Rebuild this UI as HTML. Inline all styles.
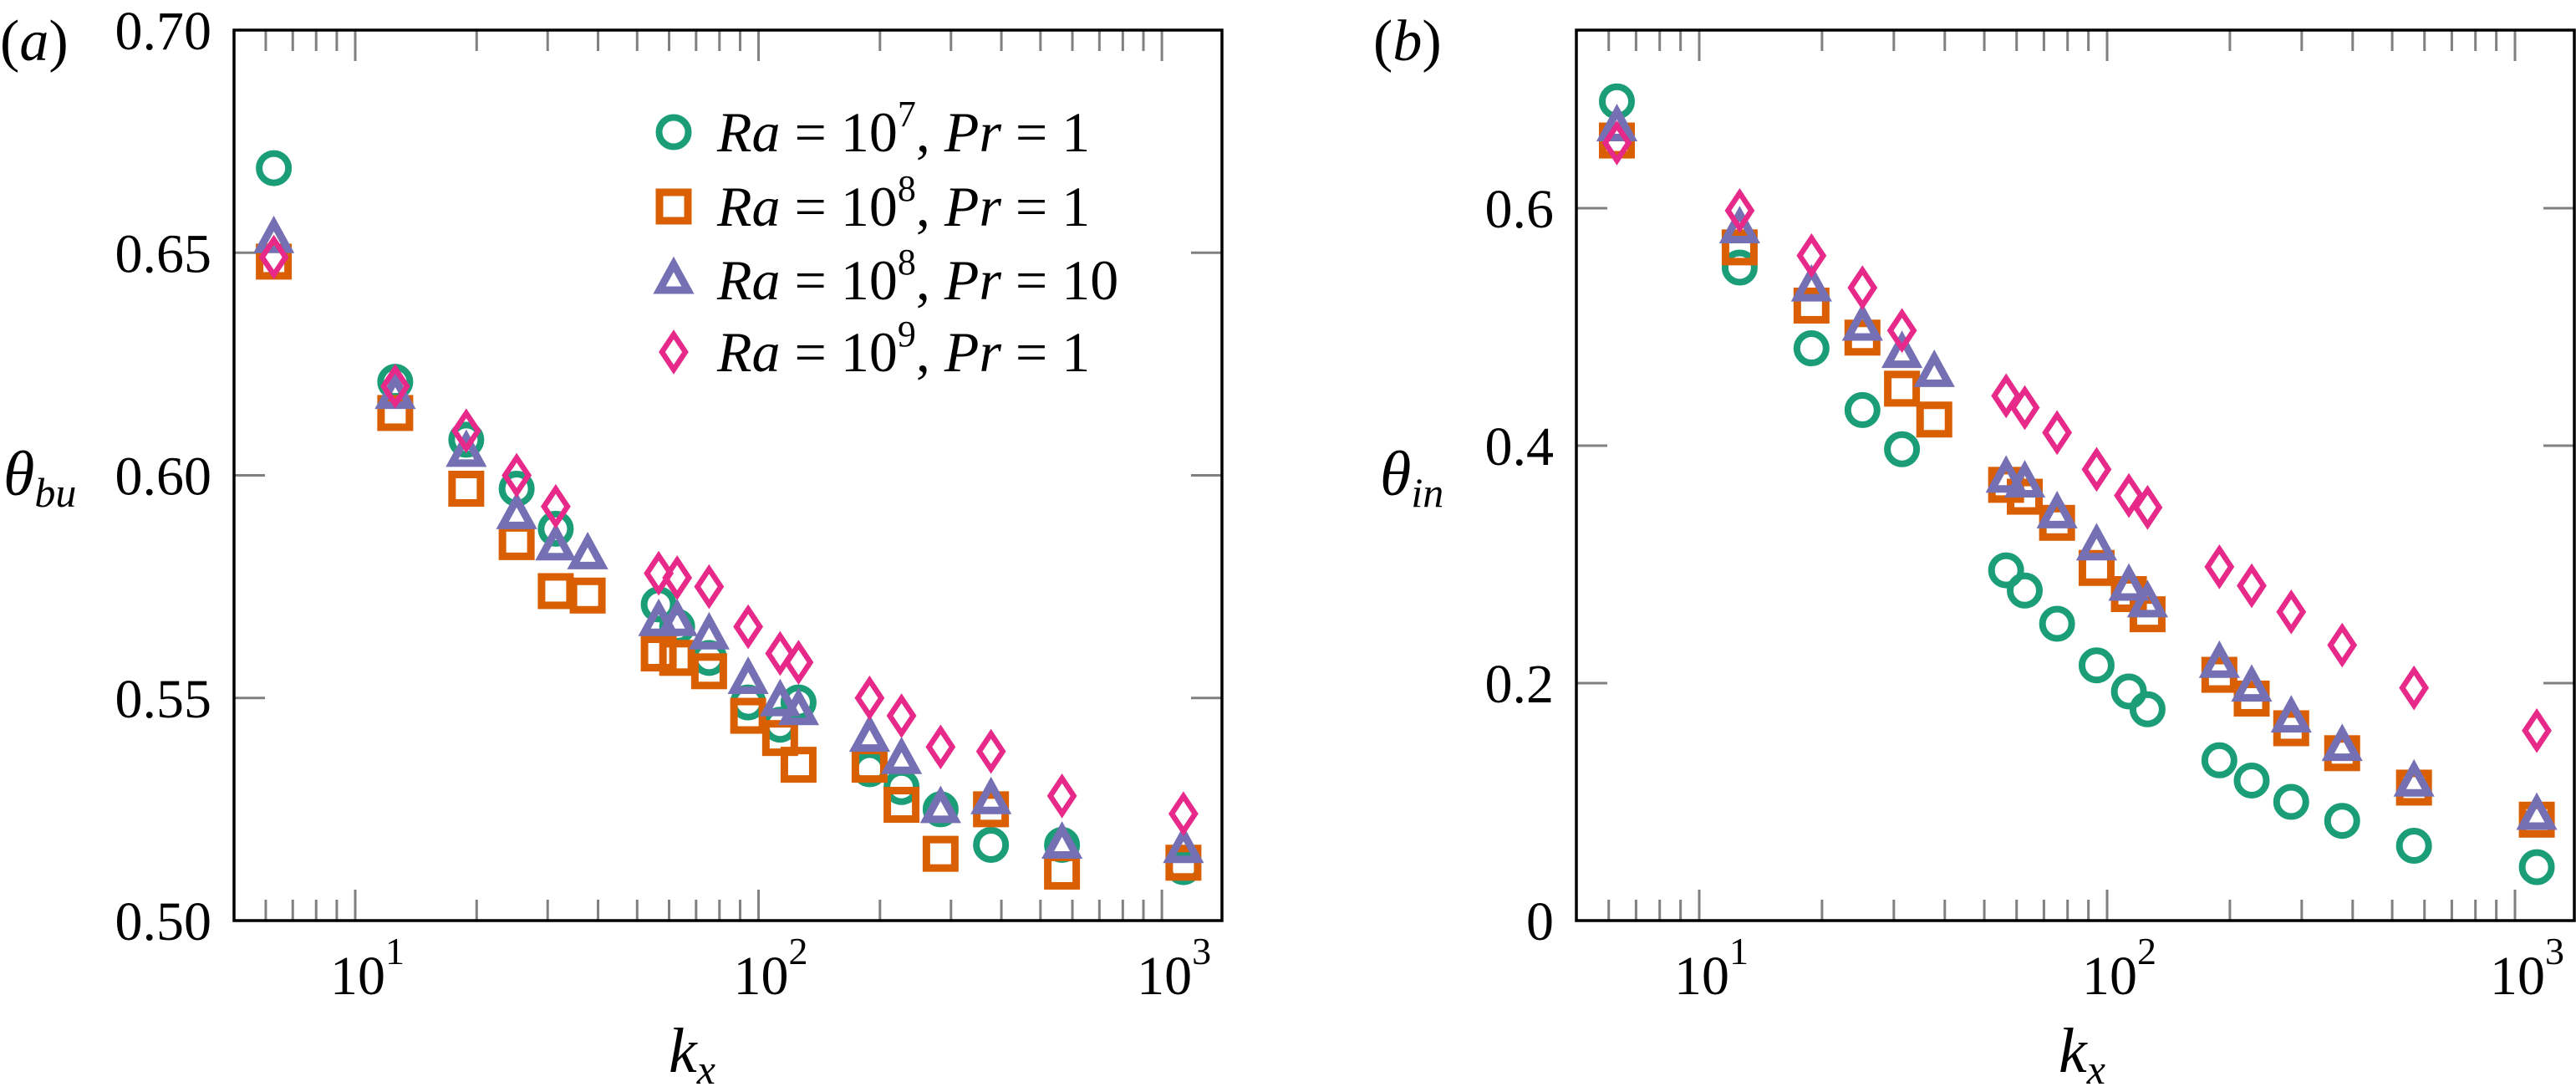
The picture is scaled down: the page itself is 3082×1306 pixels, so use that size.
<!DOCTYPE html>
<html><head><meta charset="utf-8">
<style>
html,body{margin:0;padding:0;background:#fff;}
svg{display:block;}
svg text, svg tspan{font-family:"Liberation Serif","Times New Roman",serif !important;fill:#000;}
</style></head>
<body>
<svg id="chart" width="3082" height="1306" viewBox="0 0 3082 1306" xmlns="http://www.w3.org/2000/svg" font-family="Liberation Serif, serif">
<g id="pa"></g>
<g id="pb"></g>
</svg>
<script>
const kxFactors = [2,4,6,8,10,12,18,20,24,30,36,40,60,72,90,120,180,360];
// null = no point
const aGreen  = [0.669,0.621,0.608,0.597,0.588,null,0.571,0.566,0.559,0.549,0.544,0.549,0.534,0.530,0.525,0.517,0.517,0.512];
const aOrange = [0.648,0.614,0.597,0.585,0.574,0.573,0.560,0.559,0.556,0.546,0.541,0.535,0.535,0.526,0.515,0.525,0.511,0.513];
const aPurple = [0.653,0.618,0.605,0.591,0.584,0.582,0.567,0.567,0.564,0.554,0.549,0.547,0.541,0.536,0.525,0.527,0.517,0.516];
const aPink   = [0.649,0.620,0.610,0.600,0.593,null,0.578,0.577,0.575,0.566,0.560,0.558,0.550,0.546,0.539,0.538,0.528,0.524];
const bGreen  = [0.690,0.550,0.482,0.430,0.397,null,0.295,0.278,0.250,0.215,0.193,0.178,0.135,0.118,0.100,0.084,0.063,0.045];
const bOrange = [0.657,0.567,0.518,0.491,0.448,0.422,0.367,0.357,0.335,0.297,0.275,0.258,0.207,0.187,0.162,0.141,0.112,0.085];
const bPurple = [0.668,0.582,0.533,0.500,0.477,0.461,0.372,0.368,0.342,0.315,0.281,0.267,0.216,0.196,0.170,0.146,0.116,0.088];
const bPink   = [0.655,0.598,0.560,0.533,0.497,null,0.442,0.432,0.411,0.380,0.358,0.348,0.298,0.282,0.260,0.232,0.196,0.160];
const aYTicks = [0.50,0.55,0.60,0.65,0.70];
const aYLabels = ["0.50","0.55","0.60","0.65","0.70"];
const bYTicks = [0,0.2,0.4,0.6];
const bYLabels = ["0","0.2","0.4","0.6"];
const xDecades = [1,2,3];
const legendLabels = [["7","1"],["8","1"],["8","10"],["9","1"]];

const NS="http://www.w3.org/2000/svg";
const FONT='"Liberation Serif", "Times New Roman", serif';
function mk(tag,parent,attrs){const e=document.createElementNS(NS,tag);for(const k in attrs)e.setAttribute(k,attrs[k]);if(tag==="text")e.setAttribute("font-family",FONT);parent.appendChild(e);return e;}
const COLORS={green:"#1b9e77",orange:"#d95f02",purple:"#7570b3",pink:"#e7298a"};

function marker(g,type,cx,cy){
  let e;
  if(type==="green"){e=mk("circle",g,{cx:cx,cy:cy,r:17.5,fill:"none",stroke:COLORS.green,"stroke-width":8});}
  else if(type==="orange"){e=mk("rect",g,{x:cx-17,y:cy-17,width:34,height:34,fill:"none",stroke:COLORS.orange,"stroke-width":9});}
  else if(type==="purple"){e=mk("path",g,{d:`M${cx},${cy-19} L${cx+17},${cy+12} L${cx-17},${cy+12} Z`,fill:"none",stroke:COLORS.purple,"stroke-width":9,"stroke-linejoin":"miter"});}
  else {e=mk("path",g,{d:`M${cx},${cy-21} L${cx+14},${cy} L${cx},${cy+21} L${cx-14},${cy} Z`,fill:"none",stroke:COLORS.pink,"stroke-width":6.5});}
  
  
  return e;
}

function panel(g,cfg){
  const {L,R,T,B,lmin,lmax,ymin,ymax}=cfg;
  const xs=v=>L+(Math.log10(v)-lmin)/(lmax-lmin)*(R-L);
  const ys=v=>B-(v-ymin)/(ymax-ymin)*(B-T);
  const ticks=mk("g",g,{stroke:"#808080","stroke-width":3});
  
  
  for(let d=0;d<=3;d++){
    for(let m=1;m<=9;m++){
      const v=m*Math.pow(10,d);
      const lv=Math.log10(v);
      if(lv<lmin||lv>lmax)continue;
      const len=m===1?37:25;
      const x=xs(v);
      mk("line",ticks,{x1:x,y1:B,x2:x,y2:B-len});
      mk("line",ticks,{x1:x,y1:T,x2:x,y2:T+len});
    }
  }
  cfg.yt.forEach((v,i)=>{
    const y=ys(v);
    if(v>ymin&&v<ymax){
      mk("line",ticks,{x1:L,y1:y,x2:L+37,y2:y});
      mk("line",ticks,{x1:R,y1:y,x2:R-37,y2:y});
    }
    const t=mk("text",g,{x:L-27,y:y+23,"font-size":66,"text-anchor":"end"});
    t.textContent=cfg.yl[i];
    
    
  });
  xDecades.forEach(d=>{
    const x=xs(Math.pow(10,d));
    const t=mk("text",g,{x:x-30,y:1189,"font-size":66});
    t.textContent="10";
    const s=document.createElementNS(NS,"tspan");
    s.setAttribute("dy",-36);s.setAttribute("font-size",46);
    s.textContent=String(d);
    t.appendChild(s);
    
    
  });
  const series=[["green",cfg.s[0]],["orange",cfg.s[1]],["purple",cfg.s[2]],["pink",cfg.s[3]]];
  series.forEach(([c,vals])=>{
    const sg=mk("g",g,{});
    
    
    vals.forEach((v,i)=>{ if(v===null)return; marker(sg,c,xs(kxFactors[i]*Math.PI),ys(v)); });
  });
  const fr=mk("rect",g,{x:L,y:T,width:R-L,height:B-T,fill:"none",stroke:"#000","stroke-width":3.5});
  
  
}

const pa=document.getElementById("pa"), pb=document.getElementById("pb");
panel(pa,{L:280,R:1462,T:36,B:1101,lmin:0.6995,lmax:3.149,ymin:0.5,ymax:0.7,yt:aYTicks,yl:aYLabels,s:[aGreen,aOrange,aPurple,aPink]});
panel(pb,{L:1886,R:3080,T:36,B:1101,lmin:0.6988,lmax:3.1455,ymin:0,ymax:0.75,yt:bYTicks,yl:bYLabels,s:[bGreen,bOrange,bPurple,bPink]});

// legend
const lg=mk("g",pa,{});


const legY=[158,247,335,421];
["green","orange","purple","pink"].forEach((c,i)=>{
  const y=legY[i];
  marker(lg,c,806,y);
  const t=mk("text",lg,{x:858,y:y+23,"font-size":68});
  
  
  t.innerHTML=`<tspan font-style="italic">Ra</tspan> = 10<tspan dy="-30" font-size="44">${legendLabels[i][0]}</tspan><tspan dy="30">, </tspan><tspan font-style="italic">Pr</tspan> = ${legendLabels[i][1]}`;
});

function label(parent,name,x,y,html,size,anchor){
  const t=mk("text",parent,{x:x,y:y,"font-size":size,"text-anchor":anchor||"start"});
  t.innerHTML=html;
  
  
}
label(pa,"panel-label-a",0,72,'(<tspan font-style="italic">a</tspan>)',70);
label(pb,"panel-label-b",1643,72,'(<tspan font-style="italic">b</tspan>)',70);
label(pa,"y-axis-title",4,592,'<tspan font-style="italic">θ</tspan><tspan font-style="italic" font-size="50" dy="14">bu</tspan>',76);
label(pb,"y-axis-title",1651,592,'<tspan font-style="italic">θ</tspan><tspan font-style="italic" font-size="50" dy="14">in</tspan>',76);
label(pa,"x-axis-title",800,1282,'<tspan font-style="italic">k</tspan><tspan font-style="italic" font-size="50" dy="14">x</tspan>',76);
label(pb,"x-axis-title",2463,1282,'<tspan font-style="italic">k</tspan><tspan font-style="italic" font-size="50" dy="14">x</tspan>',76);
</script>
</body></html>
